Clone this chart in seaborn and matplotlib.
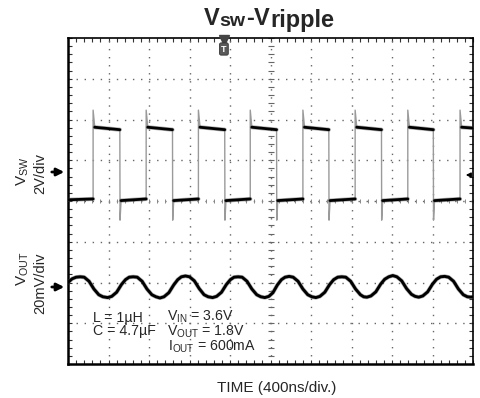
import numpy as np
import pandas as pd
import matplotlib
matplotlib.use("Agg")
import matplotlib.pyplot as plt
import seaborn as sns

# ---------------- data (units = divisions) ----
rise_t = [0.62, 1.93, 3.22, 4.50, 5.80, 7.09, 8.39, 9.68]
fall_t = [1.28, 2.58, 3.87, 5.15, 6.44, 7.74, 9.02]
vsw_low_start = 4.01
vsw_low_end = 4.05
vsw_high_start = 5.81
vsw_high_end = 5.75
vsw_spike = 6.23
vsw_undershoot = 3.53

ripple_t = [0.00, 0.10, 0.20, 0.30, 0.40, 0.52, 0.64, 0.76, 0.86, 0.98,
            1.08, 1.20, 1.32, 1.42, 1.51, 1.61, 1.71, 1.83, 1.95, 2.07, 2.17, 2.27,
            2.37, 2.49, 2.61, 2.71, 2.80, 2.90, 3.00, 3.12, 3.24, 3.36, 3.46, 3.57,
            3.67, 3.79, 3.91, 4.01, 4.10, 4.20, 4.30, 4.42, 4.54, 4.66, 4.76, 4.86,
            4.96, 5.06, 5.17, 5.27, 5.36, 5.46, 5.56, 5.68, 5.80, 5.92, 6.02, 6.12,
            6.22, 6.34, 6.46, 6.56, 6.66, 6.76, 6.86, 6.98, 7.10, 7.22, 7.30, 7.38,
            7.48, 7.60, 7.72, 7.82, 7.92, 8.02, 8.12, 8.24, 8.36, 8.48, 8.57, 8.66,
            8.76, 8.88, 9.00, 9.10, 9.20, 9.30, 9.40, 9.52, 9.64, 9.76, 9.86, 9.95, 10.0]
ripple_v = [2.00, 2.09, 2.13, 2.14, 2.13, 2.03, 1.84, 1.70, 1.65, 1.63,
            1.66, 1.76, 1.95, 2.07, 2.13, 2.14, 2.13, 2.03, 1.84, 1.70, 1.65, 1.62,
            1.65, 1.75, 1.94, 2.07, 2.14, 2.16, 2.14, 2.04, 1.85, 1.70, 1.65, 1.63,
            1.66, 1.76, 1.95, 2.07, 2.13, 2.14, 2.13, 2.03, 1.84, 1.70, 1.65, 1.63,
            1.66, 1.75, 1.94, 2.07, 2.13, 2.15, 2.13, 2.03, 1.84, 1.70, 1.65, 1.63,
            1.66, 1.76, 1.95, 2.07, 2.13, 2.14, 2.13, 2.03, 1.84, 1.70, 1.65, 1.64,
            1.67, 1.77, 1.96, 2.08, 2.14, 2.17, 2.14, 2.04, 1.85, 1.71, 1.66, 1.64,
            1.67, 1.77, 1.96, 2.08, 2.14, 2.15, 2.13, 2.03, 1.84, 1.70, 1.65, 1.64, 1.65]

trigger_t = 3.85
title_parts = ["V", "sw", "-", "V", "ripple"]
annot_lines = ["L = 1µH", "C = 4.7µF",
               r"$\mathregular{V_{IN}}$ = 3.6V",
               r"$\mathregular{V_{OUT}}$ = 1.8V",
               r"$\mathregular{I_{OUT}}$ = 600mA"]
xlabel = "TIME (400ns/div.)"

# ---------------- build trace tables ----------------
flat_rows, edge_rows = [], []
seg = 0
flat_rows += [(0.0, 4.03, seg), (rise_t[0], vsw_low_end, seg)]
for i, r in enumerate(rise_t):
    seg += 1
    edge_rows += [(r, vsw_low_end, seg), (r, vsw_spike, seg), (r + 0.04, vsw_high_start, seg)]
    seg += 1
    if i < len(fall_t):
        f = fall_t[i]
        flat_rows += [(r + 0.04, vsw_high_start, seg), (f, vsw_high_end, seg)]
        seg += 1
        edge_rows += [(f, vsw_high_end, seg), (f + 0.005, vsw_undershoot, seg), (f + 0.03, vsw_low_start, seg)]
        seg += 1
        flat_rows += [(f + 0.03, vsw_low_start, seg), (rise_t[i + 1], vsw_low_end, seg)]
    else:
        flat_rows += [(r + 0.04, vsw_high_start, seg), (10.0, vsw_high_start - 0.02, seg)]

flat = pd.DataFrame(flat_rows, columns=["t", "v", "seg"])
edge = pd.DataFrame(edge_rows, columns=["t", "v", "seg"])
rip = pd.DataFrame({"t": ripple_t, "v": ripple_v})

# ---------------- style ----------------
sns.set_theme(style="white")
plt.rcParams["font.family"] = ["Liberation Sans", "DejaVu Sans"]
plt.rcParams["mathtext.fontset"] = "custom"
plt.rcParams["mathtext.rm"] = "Liberation Sans"
plt.rcParams["mathtext.it"] = "Liberation Sans:italic"
plt.rcParams["mathtext.bf"] = "Liberation Sans:bold"

W, H = 480, 398
fig = plt.figure(figsize=(W / 100, H / 100), dpi=100)
fig.patch.set_facecolor("white")
ax = fig.add_axes([68 / W, 1 - 364 / H, 405 / W, 326 / H])
ax.set_facecolor("white")
ax.set_xlim(0, 10)
ax.set_ylim(0, 8)

# dotted graticule
dots = (0, (1, 4.8))
for x in range(1, 10):
    ax.axvline(x, color="#666666", lw=1.0, ls=dots, zorder=1)
for y in range(1, 8):
    ax.axhline(y, color="#666666", lw=1.0, ls=dots, zorder=1)
yt = np.arange(0, 8.001, 0.2)
xt = np.arange(0, 10.001, 0.2)
ax.plot(np.full(len(yt), 5.0), yt, ls="none", marker="_", ms=4.5, mew=0.8, color="#666666", zorder=1)
ax.plot(xt, np.full(len(xt), 4.0), ls="none", marker="|", ms=3.5, mew=0.7, color="#888888", zorder=1)

# frame ticks
ax.set_xticks(np.arange(0, 10.01, 1))
ax.set_yticks(np.arange(0, 8.01, 1))
ax.set_xticks(xt, minor=True)
ax.set_yticks(yt, minor=True)
ax.tick_params(which="both", direction="in", length=3, width=0.8, color="#333333",
               top=True, right=True, bottom=True, left=True,
               labelbottom=False, labelleft=False)
for s in ax.spines.values():
    s.set_color("black")
    s.set_linewidth(1.2)
ax.spines["left"].set_linewidth(1.8)
ax.spines["bottom"].set_linewidth(1.8)

# traces
sns.lineplot(data=edge, x="t", y="v", units="seg", estimator=None, sort=False,
             color="#9a9a9a", lw=1.0, ax=ax, zorder=3)
sns.lineplot(data=flat, x="t", y="v", units="seg", estimator=None, sort=False,
             color="#555555", lw=3.0, alpha=0.45, ax=ax, zorder=4)
sns.lineplot(data=flat, x="t", y="v", units="seg", estimator=None, sort=False,
             color="black", lw=2.0, ax=ax, zorder=5)
sns.lineplot(data=rip, x="t", y="v", estimator=None, sort=False,
             color="#555555", lw=3.0, alpha=0.45, ax=ax, zorder=4)
sns.lineplot(data=rip, x="t", y="v", estimator=None, sort=False,
             color="black", lw=2.1, ax=ax, zorder=5)
ax.set_xlabel("")
ax.set_ylabel("")

# trigger marker
ax.plot([trigger_t], [7.94], marker="v", ms=7, color="#444444", clip_on=False, zorder=6)
ax.text(trigger_t, 7.73, "T", ha="center", va="center", color="white", fontsize=6.5,
        weight="bold", zorder=6,
        bbox=dict(boxstyle="round,pad=0.18", fc="#5a5a5a", ec="#333333", lw=0.6))

def px(x, y):
    return (x / W, 1 - y / H)

# title
title_x = [204, 219, 246, 254, 270]
title_sz = [17, 14, 17, 17, 17]
title_base = [25, 26, 25, 25, 27]
for s, x, sz, b in zip(title_parts, title_x, title_sz, title_base):
    fig.text(*px(x, b), s, fontsize=sz, weight="bold", ha="left", va="baseline")

# left labels
fig.text(*px(23, 171), r"$\mathregular{V_{SW}}$", rotation=90, fontsize=11, ha="center", va="center")
fig.text(*px(40, 173), "2V/div", rotation=90, fontsize=10.5, ha="center", va="center")
fig.text(*px(23, 269), r"$\mathregular{V_{OUT}}$", rotation=90, fontsize=11, ha="center", va="center")
fig.text(*px(40, 283), "20mV/div", rotation=90, fontsize=10.5, ha="center", va="center")

# arrows
for yy in (172, 287):
    fig.add_artist(matplotlib.patches.FancyArrowPatch(
        (49 / W, 1 - yy / H), (67 / W, 1 - yy / H), transform=fig.transFigure,
        arrowstyle="-|>", mutation_scale=11, lw=2.0, color="black"))
fig.add_artist(matplotlib.patches.FancyArrowPatch(
    (473 / W, 1 - 175 / H), (463 / W, 1 - 175 / H), transform=fig.transFigure,
    arrowstyle="-|>", mutation_scale=7, lw=1.0, color="black"))

# annotation block
ann_pos = [(93, 322), (93, 335), (167, 321), (167, 336), (168, 351)]
for s, (x, y) in zip(annot_lines, ann_pos):
    fig.text(*px(x, y), s, fontsize=10.2, ha="left", va="baseline")

# x label
fig.text(*px(277, 392), xlabel, fontsize=11, ha="center", va="baseline")

fig.savefig("out.png", dpi=100, facecolor="white")
